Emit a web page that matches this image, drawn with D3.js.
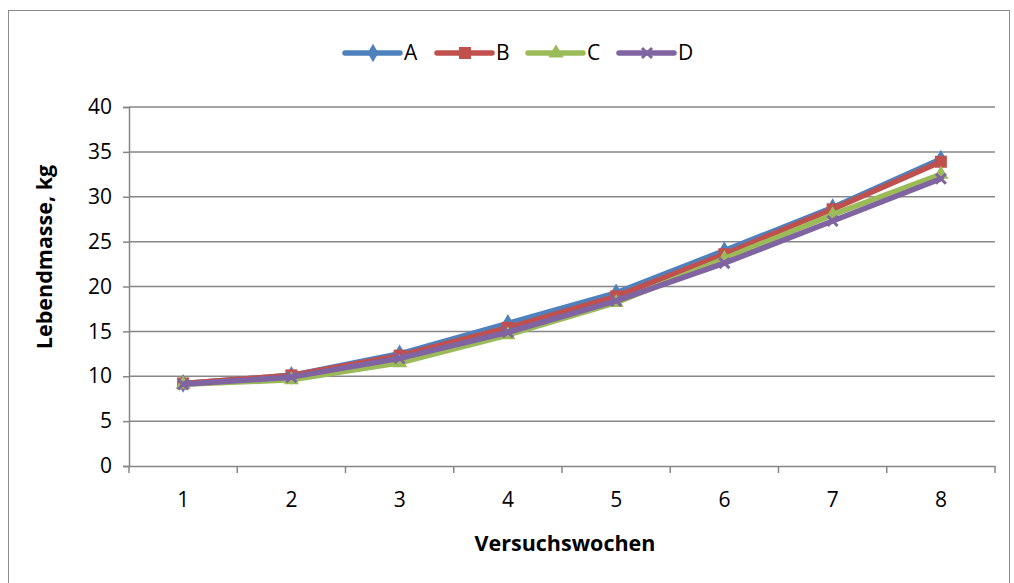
<!DOCTYPE html>
<html><head><meta charset="utf-8">
<script src="https://cdn.jsdelivr.net/npm/d3@7"></script>
<style>body{margin:0;background:#fff}svg{display:block}text{font-family:"Open Sans","Liberation Sans",sans-serif}</style>
</head><body>
<svg id="c" width="1014" height="583"></svg>
<script>
const weeks = ["1","2","3","4","5","6","7","8"];
const seriesNames = ["A","B","C","D"];
const valuesA = [9.2, 10.1, 12.5, 15.9, 19.3, 24.0, 28.8, 34.2];
const valuesB = [9.2, 10.1, 12.3, 15.4, 18.9, 23.6, 28.6, 33.9];
const valuesC = [9.1, 9.6, 11.5, 14.6, 18.2, 23.1, 28.0, 32.5];
const valuesD = [9.1, 9.9, 12.0, 14.9, 18.4, 22.6, 27.3, 32.0];
const yTicks = [0,5,10,15,20,25,30,35,40];
const colors = ["#4F81BD","#C0504D","#9BBB59","#8064A2"];
const symbols = ["diamond","square","triangle","x"];

const svg = d3.select("#c");
svg.append("rect").attr("x",8.5).attr("y",10.5).attr("width",1001).attr("height",620)
  .attr("fill","#fff").attr("stroke","#8c8c8c").attr("stroke-width",1);

const L=129, R=995, T=107, B=466;
const x = d3.scaleBand().domain(weeks).range([L,R]);
const y = d3.scaleLinear().domain([0,40]).range([B,T]);

// gridlines
svg.append("g").selectAll("line").data(yTicks.filter(d=>d>0)).join("line")
  .attr("x1",L).attr("x2",R).attr("y1",d=>y(d)).attr("y2",d=>y(d))
  .attr("stroke","#878787").attr("stroke-width",1.5);

// y axis
const ya = svg.append("g").attr("transform",`translate(${L},0)`)
  .call(d3.axisLeft(y).tickValues(yTicks).tickSize(6).tickPadding(11));
ya.select(".domain").attr("stroke","#878787").attr("stroke-width",1.5);
ya.selectAll(".tick line").attr("stroke","#878787").attr("stroke-width",1.5);
ya.selectAll("text").attr("font-size",21).attr("fill","#000").attr("font-family","Open Sans");

// x axis
const xa = svg.append("g").attr("transform",`translate(0,${B})`)
  .call(d3.axisBottom(x).tickSize(0).tickPadding(26));
xa.select(".domain").attr("stroke","#878787").attr("stroke-width",1.5);
xa.selectAll("text").attr("font-size",21).attr("fill","#000").attr("font-family","Open Sans");
const bounds = weeks.map(w=>x(w)).concat([R]);
svg.append("g").selectAll("line").data(bounds).join("line")
  .attr("x1",d=>d).attr("x2",d=>d).attr("y1",B).attr("y2",B+7)
  .attr("stroke","#878787").attr("stroke-width",1.5);

// axis titles
svg.append("text").attr("x",565).attr("y",551).attr("text-anchor","middle")
  .attr("font-size",21.5).attr("font-weight","bold").text("Versuchswochen");
svg.append("text").attr("transform","translate(52,257) rotate(-90)").attr("text-anchor","middle")
  .attr("font-size",21.5).attr("font-weight","bold").text("Lebendmasse, kg");

const data = [valuesA,valuesB,valuesC,valuesD];
const cx = w => x(w)+x.bandwidth()/2;
const line = d3.line().x((d,i)=>cx(weeks[i])).y(d=>y(d));

function marker(g, type, color, px, py){
  if(type==="diamond"){
    g.append("path").attr("d",d3.symbol(d3.symbolDiamond,100)()).attr("transform",`translate(${px},${py})`).attr("fill",color);
  } else if(type==="square"){
    g.append("rect").attr("x",px-6).attr("y",py-6).attr("width",12).attr("height",12).attr("fill",color);
  } else if(type==="triangle"){
    g.append("path").attr("d",d3.symbol(d3.symbolTriangle,100)()).attr("transform",`translate(${px},${py})`).attr("fill",color);
  } else {
    g.append("path").attr("d",`M${px-5},${py-5}L${px+5},${py+5}M${px-5},${py+5}L${px+5},${py-5}`)
      .attr("stroke",color).attr("stroke-width",3);
  }
}

data.forEach((vals,si)=>{
  const g = svg.append("g");
  g.append("path").datum(vals).attr("d",line).attr("fill","none")
    .attr("stroke",colors[si]).attr("stroke-width",5.5).attr("stroke-linejoin","round").attr("stroke-linecap","round");
  vals.forEach((v,i)=>marker(g,symbols[si],colors[si],cx(weeks[i]),y(v)));
});

// legend
const legX = [345,437,528,619];
seriesNames.forEach((n,i)=>{
  const g = svg.append("g");
  g.append("line").attr("x1",legX[i]).attr("x2",legX[i]+55).attr("y1",53).attr("y2",53)
    .attr("stroke",colors[i]).attr("stroke-width",5.5).attr("stroke-linecap","round");
  marker(g,symbols[i],colors[i],legX[i]+28,53);
  g.append("text").attr("x",legX[i]+59).attr("y",60).attr("font-size",21).text(n);
});
</script>
</body></html>
